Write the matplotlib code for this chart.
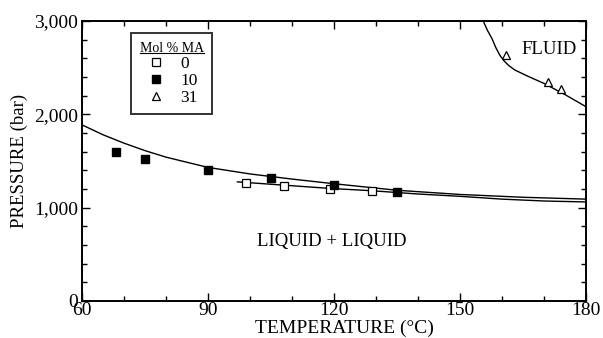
import matplotlib
matplotlib.use("Agg")
import matplotlib.pyplot as plt
from matplotlib.lines import Line2D
from matplotlib.ticker import MultipleLocator, FuncFormatter

plt.rcParams['font.family'] = ['Liberation Serif', 'DejaVu Serif']

# data
t_ma0 = [99, 108, 119, 129]
p_ma0 = [1260, 1230, 1200, 1180]
t_ma10 = [68, 75, 90, 105, 120, 135]
p_ma10 = [1590, 1520, 1400, 1320, 1240, 1170]
t_ma31 = [161, 171, 174]
p_ma31 = [2640, 2350, 2270]

# fitted curves
t_fit10 = [60, 65, 70, 75, 80, 90, 100, 110, 120, 135, 150, 165, 180]
p_fit10 = [1886, 1780, 1690, 1610, 1540, 1430, 1360, 1305, 1255, 1185, 1140, 1110, 1090]
t_fit0 = [97, 108, 119, 129, 140, 150, 160, 170, 180]
p_fit0 = [1275, 1240, 1205, 1180, 1145, 1120, 1090, 1070, 1060]
t_fluid = [155.5, 156.5, 157.6, 158.5, 159.5, 160.5, 161.5, 163, 166, 170, 175, 180]
p_fluid = [3000, 2900, 2810, 2715, 2630, 2570, 2525, 2475, 2410, 2330, 2210, 2080]

fig = plt.figure(figsize=(6.03, 3.38), dpi=100)
ax = fig.add_axes([0.136, 0.11, 0.836, 0.828])

ax.plot(t_fit10, p_fit10, color="black", lw=1.0)
ax.plot(t_fit0, p_fit0, color="black", lw=1.0)
ax.plot(t_fluid, p_fluid, color="black", lw=1.0)

h0, = ax.plot(t_ma0, p_ma0, ls="none", marker="s", ms=6, mfc="white", mec="black", mew=0.9)
h10, = ax.plot(t_ma10, p_ma10, ls="none", marker="s", ms=6, mfc="black", mec="black")
h31, = ax.plot(t_ma31, p_ma31, ls="none", marker="^", ms=6, mfc="white", mec="black", mew=0.9)

ax.set_xlim(60, 180)
ax.set_ylim(0, 3000)
ax.xaxis.set_major_locator(MultipleLocator(30))
ax.xaxis.set_minor_locator(MultipleLocator(10))
ax.yaxis.set_major_locator(MultipleLocator(1000))
ax.yaxis.set_minor_locator(MultipleLocator(200))
ax.yaxis.set_major_formatter(FuncFormatter(lambda v, _: f"{int(v):,}"))
ax.tick_params(which="both", direction="in", top=True, right=True, labelsize=14, width=1.0)
ax.tick_params(which="major", length=6)
ax.tick_params(which="minor", length=3.5)
ax.tick_params(axis="x", pad=1)
ax.tick_params(axis="y", pad=3)
for s in ax.spines.values():
    s.set_linewidth(1.4)

ax.set_xlabel("TEMPERATURE (°C)", fontsize=14, labelpad=0)
ax.xaxis.set_label_coords(0.52, -0.066)
ax.set_ylabel("PRESSURE (bar)", fontsize=13.5)
ax.yaxis.set_label_coords(-0.108, 0.5)

ax.text(164.5, 2690, "FLUID", fontsize=13.5, va="center", ha="left")
ax.text(119.5, 640, "LIQUID + LIQUID", fontsize=13.5, va="center", ha="center")

leg = ax.legend([h0, h10, h31], ["0", "10", "31"], title="Mol % MA",
                loc="upper left", bbox_to_anchor=(0.097, 0.957), borderaxespad=0,
                fontsize=12.5, title_fontsize=10, frameon=True, fancybox=False,
                edgecolor="black", handletextpad=0.8, borderpad=0.5,
                labelspacing=0.05, handlelength=1.2)
leg.get_frame().set_linewidth(1.4)

# underline the legend title
fig.canvas.draw()
bb = leg.get_title().get_window_extent().transformed(fig.transFigure.inverted())
fig.add_artist(Line2D([bb.x0, bb.x1], [bb.y0 + 0.004, bb.y0 + 0.004],
                      transform=fig.transFigure, color="black", lw=0.8))

fig.savefig("out.png", dpi=100, facecolor="white")
